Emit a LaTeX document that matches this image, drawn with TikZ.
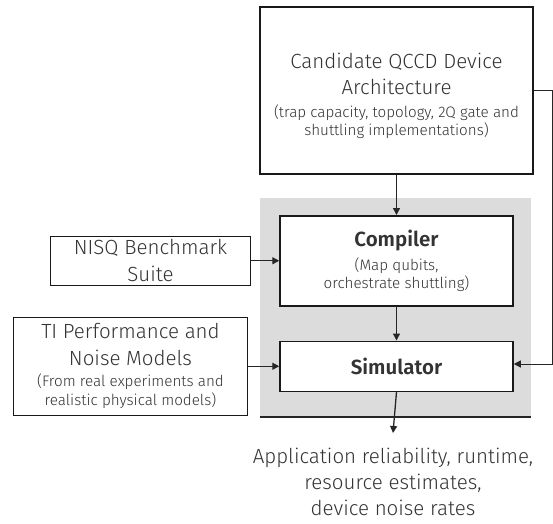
\documentclass[tikz,border=0pt]{standalone}
\usepackage{fontspec}
\setmainfont{Fira Sans}[UprightFont=* Light,BoldFont=* SemiBold]
\usepackage{tikz}
\usetikzlibrary{arrows.meta,positioning,backgrounds}
\definecolor{txtgray}{HTML}{333333}
\definecolor{panelgray}{HTML}{DCDCDC}
\newcommand{\lrg}{\fontsize{20.5}{25}\selectfont}
\newcommand{\sml}{\fontsize{15.2}{18.5}\selectfont}

\begin{document}
\begin{tikzpicture}[x=1pt,y=-1pt,
box/.style={draw=black!90,line width=1.5pt,fill=white,align=center,text=txtgray,inner sep=0pt,font=\lrg},
arr/.style={-{Triangle[length=7pt,width=7pt]},line width=1.3pt,draw=black!85},
node distance=40pt and 28pt]
\useasboundingbox (0,0) rectangle (553,523);
\node[box,line width=2pt,minimum width=273pt,minimum height=167pt] (arch) at (396.5,90.5)
  {\rule{0pt}{26pt}Candidate QCCD Device\\[1pt]Architecture\\[-2pt]\sml (trap capacity, topology, 2Q gate and\\[-6.5pt]\sml shuttling implementations)};
\node[box,below=40pt of arch,minimum width=233pt,minimum height=90pt] (comp)
  {\bfseries Compiler\\[-1pt]\sml (Map qubits,\\[-6.5pt]\sml orchestrate shuttling)};
\node[box,below=34pt of comp,minimum width=233pt,minimum height=50pt] (sim)
  {\bfseries Simulator};
\node[box,left=28pt of comp,minimum width=200pt,minimum height=49pt] (nisq)
  {NISQ Benchmark\\[2pt]Suite};
\node[box,left=31pt of sim,minimum width=234pt,minimum height=98pt] (ti)
  {TI Performance and\\[2pt]Noise Models\\[-4pt]\sml (From real experiments and\\[-6pt]\sml realistic physical models)};
\node[align=center,text=txtgray,anchor=north,inner sep=0pt,font=\fontsize{20.5}{26}\selectfont] (out) at (393,448)
  {Application reliability, runtime,\\resource estimates,\\device noise rates};
\coordinate (fbtop) at (552,90);
\coordinate (fbbot) at (552,364);
% panel behind compiler and simulator
\begin{scope}[on background layer]
\fill[panelgray] (260,198) rectangle (531,417);
\draw[line width=1.3pt,black!85] (260,417) -- (531,417);
\end{scope}
\draw[arr] (arch) -- (comp);
\draw[arr] (comp) -- (sim);
\draw[arr] (nisq) -- (comp);
\draw[arr] (ti) -- (sim);
\draw[arr] (sim.south) -- ([yshift=15pt]out.north);
\draw[arr,line width=1pt] (arch.east|-fbtop) -- (fbtop) -- (fbbot) -- (sim.east|-fbbot);
\end{tikzpicture}
\end{document}
